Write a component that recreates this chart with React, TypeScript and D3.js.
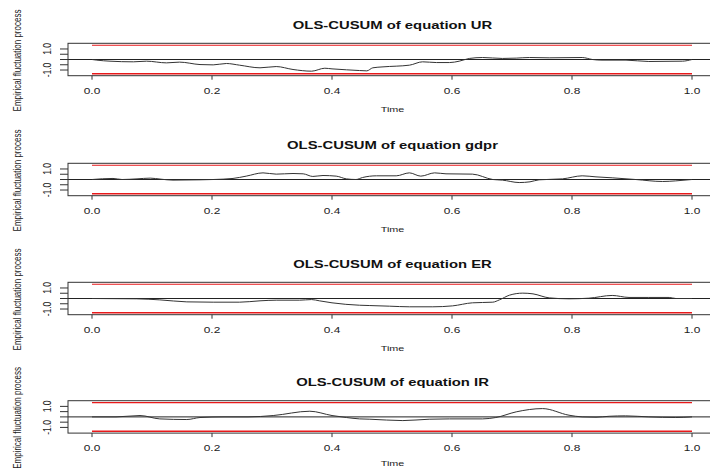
import React from "react";
import * as d3 from "d3";

const panelTitles = [
  "OLS-CUSUM of equation UR",
  "OLS-CUSUM of equation gdpr",
  "OLS-CUSUM of equation ER",
  "OLS-CUSUM of equation IR",
];

const xTicks = [0, 0.2, 0.4, 0.6, 0.8, 1.0];
const yTicks = [-1, -0.5, 0, 0.5, 1];
const yTickLabels: Record<string, string> = { "1": "1.0", "-1": "-1.0" };
const boundary = 1.358;

const urTime = [0, 0.008, 0.03, 0.069, 0.091, 0.124, 0.146, 0.18, 0.202, 0.224, 0.246, 0.28, 0.307, 0.335, 0.366, 0.388, 0.4, 0.424, 0.446, 0.458, 0.468, 0.485, 0.529, 0.551, 0.574, 0.596, 0.612, 0.629, 0.651, 0.684, 0.707, 0.729, 0.762, 0.817, 0.834, 0.85, 0.89, 0.928, 0.984, 1.0];
const urValue = [0, -0.06, -0.16, -0.22, -0.16, -0.32, -0.25, -0.48, -0.51, -0.38, -0.54, -0.79, -0.67, -0.95, -1.11, -0.83, -0.89, -0.98, -1.05, -1.08, -0.79, -0.7, -0.54, -0.22, -0.29, -0.29, -0.16, 0.1, 0.19, 0.1, 0.13, 0.19, 0.16, 0.19, 0, -0.06, -0.06, -0.19, -0.16, 0];

const gdprTime = [0, 0.035, 0.05, 0.075, 0.097, 0.115, 0.135, 0.18, 0.202, 0.235, 0.257, 0.285, 0.307, 0.335, 0.352, 0.368, 0.385, 0.407, 0.424, 0.44, 0.451, 0.474, 0.507, 0.529, 0.548, 0.571, 0.59, 0.634, 0.668, 0.684, 0.712, 0.73, 0.745, 0.784, 0.817, 0.84, 0.867, 0.906, 0.951, 0.973, 1.0];
const gdprValue = [0, 0.1, 0, 0.06, 0.13, 0.03, -0.06, -0.03, 0, 0.1, 0.32, 0.63, 0.51, 0.57, 0.54, 0.29, 0.38, 0.32, 0.06, 0, 0.19, 0.35, 0.35, 0.63, 0.32, 0.63, 0.54, 0.51, 0, -0.06, -0.29, -0.22, -0.03, 0.06, 0.35, 0.25, 0.16, 0, -0.19, -0.13, 0];

const erTime = [0, 0.074, 0.113, 0.158, 0.202, 0.246, 0.28, 0.307, 0.346, 0.366, 0.379, 0.4, 0.446, 0.463, 0.496, 0.529, 0.568, 0.601, 0.634, 0.668, 0.679, 0.696, 0.718, 0.735, 0.762, 0.795, 0.828, 0.867, 0.895, 0.928, 0.962, 0.973, 1.0];
const erValue = [0, -0.03, -0.13, -0.32, -0.35, -0.35, -0.22, -0.16, -0.16, -0.1, -0.22, -0.41, -0.64, -0.67, -0.73, -0.79, -0.79, -0.7, -0.41, -0.35, -0.13, 0.32, 0.51, 0.44, 0.06, -0.03, 0.03, 0.29, 0.1, 0.1, 0.1, 0, 0];

const irTime = [0, 0.04, 0.08, 0.113, 0.158, 0.18, 0.22, 0.26, 0.302, 0.363, 0.4, 0.424, 0.446, 0.463, 0.518, 0.562, 0.596, 0.651, 0.673, 0.707, 0.751, 0.795, 0.817, 0.84, 0.862, 0.889, 0.928, 0.973, 1.0];
const irValue = [0, 0, 0.13, -0.19, -0.25, -0.06, 0, 0, 0.13, 0.54, 0.13, -0.06, -0.19, -0.22, -0.35, -0.22, -0.19, -0.19, -0.06, 0.48, 0.79, 0.16, 0, -0.03, 0.06, 0.1, 0, -0.06, 0];

const seriesTimes = [urTime, gdprTime, erTime, irTime];
const seriesValues = [urValue, gdprValue, erValue, irValue];

const W = 710;
const H = 468;
const boxLeft = 68;
const boxRight = 717;
const boxTops = [43.3, 163.3, 282.3, 400.7];
const boxH = 32.4;
const STRETCH = 1.35;
const FONT = "'Liberation Sans', Arial, Helvetica, sans-serif";

const x = d3.scaleLinear().domain([0, 1]).range([92, 692]);

function Panel({ idx }: { idx: number }) {
  const top = boxTops[idx];
  const bottom = top + boxH;
  const y = d3.scaleLinear().domain([-1.54, 1.54]).range([bottom, top]);
  const t = seriesTimes[idx];
  const v = seriesValues[idx];
  const pts: [number, number][] = t.map((tt, i) => [tt, v[i]]);
  const line = d3
    .line<[number, number]>()
    .x((d) => x(d[0]))
    .y((d) => y(d[1]))
    .curve(d3.curveMonotoneX);
  const cx = (boxLeft + boxRight) / 2;
  const midY = (top + bottom) / 2;
  const timeY = Math.min(bottom + 36, H - 2);
  return (
    <g>
      <text
        transform={`translate(${cx},${top - 14.5}) scale(${STRETCH},1)`}
        textAnchor="middle"
        fontFamily={FONT}
        fontWeight="bold"
        fontSize={11}
        fill="#111"
      >
        {panelTitles[idx]}
      </text>
      <line x1={x(0)} x2={x(1)} y1={y(boundary)} y2={y(boundary)} stroke="#e8191b" strokeWidth={1.1} />
      <line x1={x(0)} x2={x(1)} y1={y(-boundary)} y2={y(-boundary)} stroke="#e8191b" strokeWidth={1.6} />
      <line x1={boxLeft} x2={boxRight} y1={y(0)} y2={y(0)} stroke="#222" strokeWidth={1} />
      <path d={line(pts) || ""} fill="none" stroke="#333" strokeWidth={1} />
      <rect x={boxLeft} y={top} width={boxRight - boxLeft} height={boxH} fill="none" stroke="#333" strokeWidth={1} />
      {yTicks.map((tk) => (
        <line key={"yt" + tk} x1={boxLeft - 8} x2={boxLeft} y1={y(tk)} y2={y(tk)} stroke="#333" strokeWidth={1} />
      ))}
      {yTicks
        .filter((tk) => yTickLabels[String(tk)])
        .map((tk) => (
          <text
            key={"yl" + tk}
            transform={`translate(51,${y(tk)}) scale(${STRETCH},1) rotate(-90)`}
            textAnchor="middle"
            fontFamily={FONT}
            fontSize={8.5}
            fill="#222"
          >
            {yTickLabels[String(tk)]}
          </text>
        ))}
      {xTicks.map((tk) => (
        <line key={"xt" + tk} x1={x(tk)} x2={x(tk)} y1={bottom} y2={bottom + 4} stroke="#333" strokeWidth={1} />
      ))}
      {xTicks.map((tk) => (
        <text
          key={"xl" + tk}
          transform={`translate(${x(tk)},${bottom + 18}) scale(1.25,1)`}
          textAnchor="middle"
          fontFamily={FONT}
          fontSize={9.5}
          fill="#222"
        >
          {d3.format(".1f")(tk)}
        </text>
      ))}
      <text
        transform={`translate(${cx},${timeY}) scale(${STRETCH},1)`}
        textAnchor="middle"
        fontFamily={FONT}
        fontSize={8}
        fill="#222"
      >
        Time
      </text>
      <text
        transform={`translate(20.5,${midY + 1}) scale(${STRETCH},1) rotate(-90)`}
        textAnchor="middle"
        fontFamily={FONT}
        fontSize={8}
        fill="#222"
      >
        Empirical fluctuation process
      </text>
    </g>
  );
}

export default function App() {
  return (
    <svg
      width={W}
      height={H}
      viewBox={`0 0 ${W} ${H}`}
      style={{ position: "absolute", left: 0, top: 0, background: "#fff" }}
    >
      <rect x={0} y={0} width={W} height={H} fill="#fff" />
      {panelTitles.map((_, i) => (
        <Panel key={i} idx={i} />
      ))}
    </svg>
  );
}
